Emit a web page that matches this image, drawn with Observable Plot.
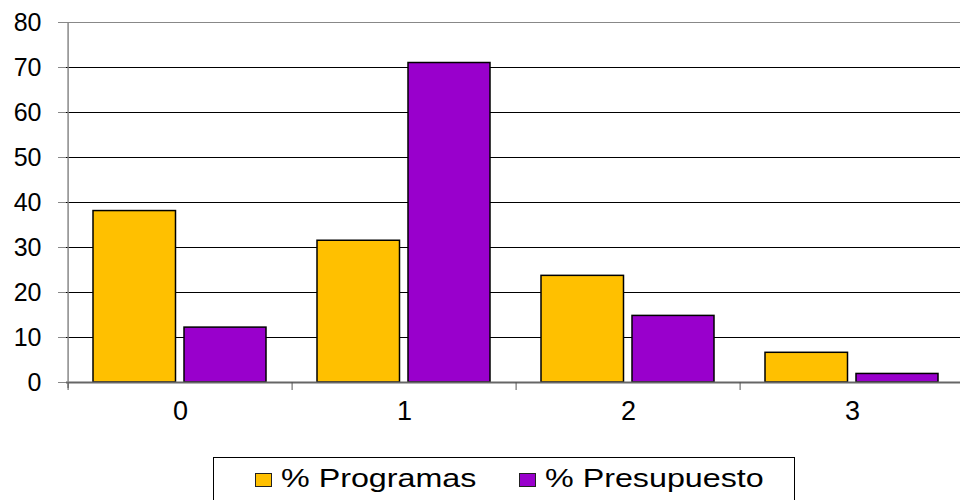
<!DOCTYPE html>
<html>
<head>
<meta charset="utf-8">
<script src="https://cdn.jsdelivr.net/npm/d3@7"></script>
<script src="https://cdn.jsdelivr.net/npm/@observablehq/plot@0.6"></script>
<style>
  html, body { margin: 0; padding: 0; background: #fff; overflow: hidden; width: 960px; height: 500px; }
  #wrap { position: relative; width: 960px; height: 500px; }
  #legend { position: absolute; left: 213px; top: 457px; width: 582px; height: 60px; border: 1px solid #000; box-sizing: border-box;
    font-family: "Liberation Sans", Arial, sans-serif; font-size: 25px; color: #000; }
  .sw { position: absolute; top: 15px; width: 17px; height: 14px; border: 1.5px solid #222; box-sizing: border-box; }
  .lt { position: absolute; top: 8px; line-height: 25px; white-space: nowrap; transform: scaleX(1.29); transform-origin: left center; }
</style>
</head>
<body>
<div id="wrap"><div id="chart"></div><div id="legend"></div></div>
<script>
const categories = ["0", "1", "2", "3"];
const series = ["% Programas", "% Presupuesto"];
const programas = [38.1, 31.5, 23.7, 6.6];
const presupuesto = [12.2, 71.0, 14.8, 1.9];
const yTicks = [0, 10, 20, 30, 40, 50, 60, 70, 80];
const colors = ["#FFC000", "#9900CC"];

const rowsP = categories.map((c, i) => ({cat: c, value: programas[i]}));
const rowsQ = categories.map((c, i) => ({cat: c, value: presupuesto[i]}));

const font = "Liberation Sans, Arial, sans-serif";
const plot = Plot.plot({
  width: 960,
  height: 450,
  marginLeft: 66,
  marginRight: 0,
  marginTop: 22,
  marginBottom: 68,
  style: {fontFamily: font, fontSize: "25px", color: "#000", background: "#fff", overflow: "hidden"},
  x: {domain: categories, range: [66, 965], padding: 0, label: null},
  y: {domain: [0, 80], label: null},
  marks: [
    Plot.ruleY(yTicks.filter(d => d > 0 && d < 80), {y: d => d, stroke: "#000", strokeWidth: 1}),
    Plot.ruleY([80], {stroke: "#888", strokeWidth: 1}),
    Plot.barY(rowsP, {x: "cat", y: "value", fill: colors[0], stroke: "#000", strokeWidth: 1.5, insetLeft: 25, insetRight: 116.5}),
    Plot.barY(rowsQ, {x: "cat", y: "value", fill: colors[1], stroke: "#000", strokeWidth: 1.5, insetLeft: 116, insetRight: 26}),
    Plot.ruleY([0], {stroke: "#666", strokeWidth: 2}),
    Plot.ruleX([categories[0]], {x: d => d, dx: -112.4, y1: 80, y2: 0, insetBottom: -6, stroke: "#888", strokeWidth: 1.5}),
    Plot.ruleX(categories, {x: d => d, dx: -112.4, y1: 0, y2: 0, insetBottom: -8, stroke: "#555", strokeWidth: 1}),
    Plot.axisY({ticks: yTicks, tickSize: 8, tickPadding: 17, stroke: "#888", fontSize: 25, tickFormat: d => String(d)}),
    Plot.axisX({tickSize: 0, tickPadding: 18, fontSize: 27})
  ]
});
document.getElementById("chart").appendChild(plot);

const legend = document.getElementById("legend");
const swLefts = [41, 305];
const txtLefts = [67, 331];
series.forEach((s, i) => {
  const sw = document.createElement("div");
  sw.className = "sw";
  sw.style.left = swLefts[i] + "px";
  sw.style.background = colors[i];
  const t = document.createElement("span");
  t.className = "lt";
  t.style.left = txtLefts[i] + "px";
  t.textContent = s;
  legend.appendChild(sw);
  legend.appendChild(t);
});
</script>
</body>
</html>
